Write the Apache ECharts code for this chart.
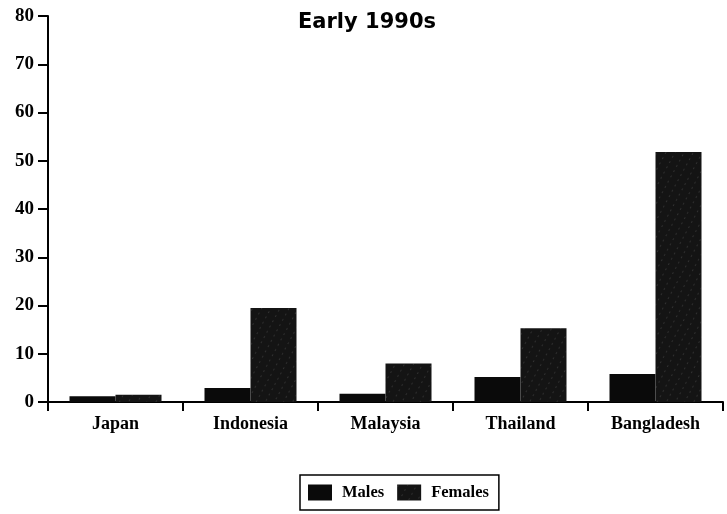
<!DOCTYPE html>
<html><head><meta charset="utf-8">
<script src="https://cdn.jsdelivr.net/npm/echarts@6/dist/echarts.min.js"></script>
<style>html,body{margin:0;padding:0;background:#fff}#c{width:727px;height:514px}</style>
</head><body><div id="c"></div>
<script>
var categories = ['Japan', 'Indonesia', 'Malaysia', 'Thailand', 'Bangladesh'];
var males = [1.2, 2.9, 1.7, 5.2, 5.8];
var females = [1.5, 19.5, 8.0, 15.3, 51.8];
var yTicks = [0, 10, 20, 30, 40, 50, 60, 70, 80];

var chart = echarts.init(document.getElementById('c'), null, {renderer: 'canvas'});
var serif = '"Liberation Serif", "DejaVu Serif", serif';
chart.setOption({
  animation: false,
  backgroundColor: '#fff',
  title: {
    text: 'Early 1990s', left: 362, top: 7, textAlign: 'center',
    textStyle: {fontFamily: '"DejaVu Sans", sans-serif', fontWeight: 'bold', fontSize: 21, color: '#000'}
  },
  legend: {
    top: 475, left: 300,
    data: ['Males', 'Females'],
    icon: 'rect', itemWidth: 24, itemHeight: 16, itemGap: 13,
    borderColor: '#000', borderWidth: 1.5, padding: [9, 10, 9, 8],
    textStyle: {fontFamily: serif, fontSize: 16.5, fontWeight: 'bold', color: '#000', padding: [2, 0, 0, 5]}
  },
  grid: {left: 48, right: 4, top: 16, bottom: 112, containLabel: false},
  xAxis: {
    type: 'category', data: categories,
    axisLine: {lineStyle: {color: '#000', width: 2}},
    axisTick: {show: true, inside: false, length: 9, lineStyle: {color: '#000', width: 2}},
    axisLabel: {fontFamily: serif, fontSize: 18, fontWeight: 'bold', color: '#000', margin: 13}
  },
  yAxis: {
    type: 'value', min: yTicks[0], max: yTicks[yTicks.length - 1], interval: 10,
    splitLine: {show: false},
    axisLine: {show: true, lineStyle: {color: '#000', width: 2}},
    axisTick: {show: true, length: 10, lineStyle: {color: '#000', width: 2}},
    axisLabel: {fontFamily: serif, fontSize: 19, fontWeight: 'bold', color: '#000', margin: 14}
  },
  series: [
    {name: 'Males', type: 'bar', data: males, barWidth: 46, barGap: '0%',
     itemStyle: {color: '#0a0a0a'}},
    {name: 'Females', type: 'bar', data: females, barWidth: 46,
     itemStyle: {color: '#141414', decal: {symbol: 'circle', symbolSize: 0.5, color: 'rgba(255,255,255,0.3)', dashArrayX: [3, 5], dashArrayY: [2, 4], rotation: 0.5}}}
  ]
});
</script></body></html>
